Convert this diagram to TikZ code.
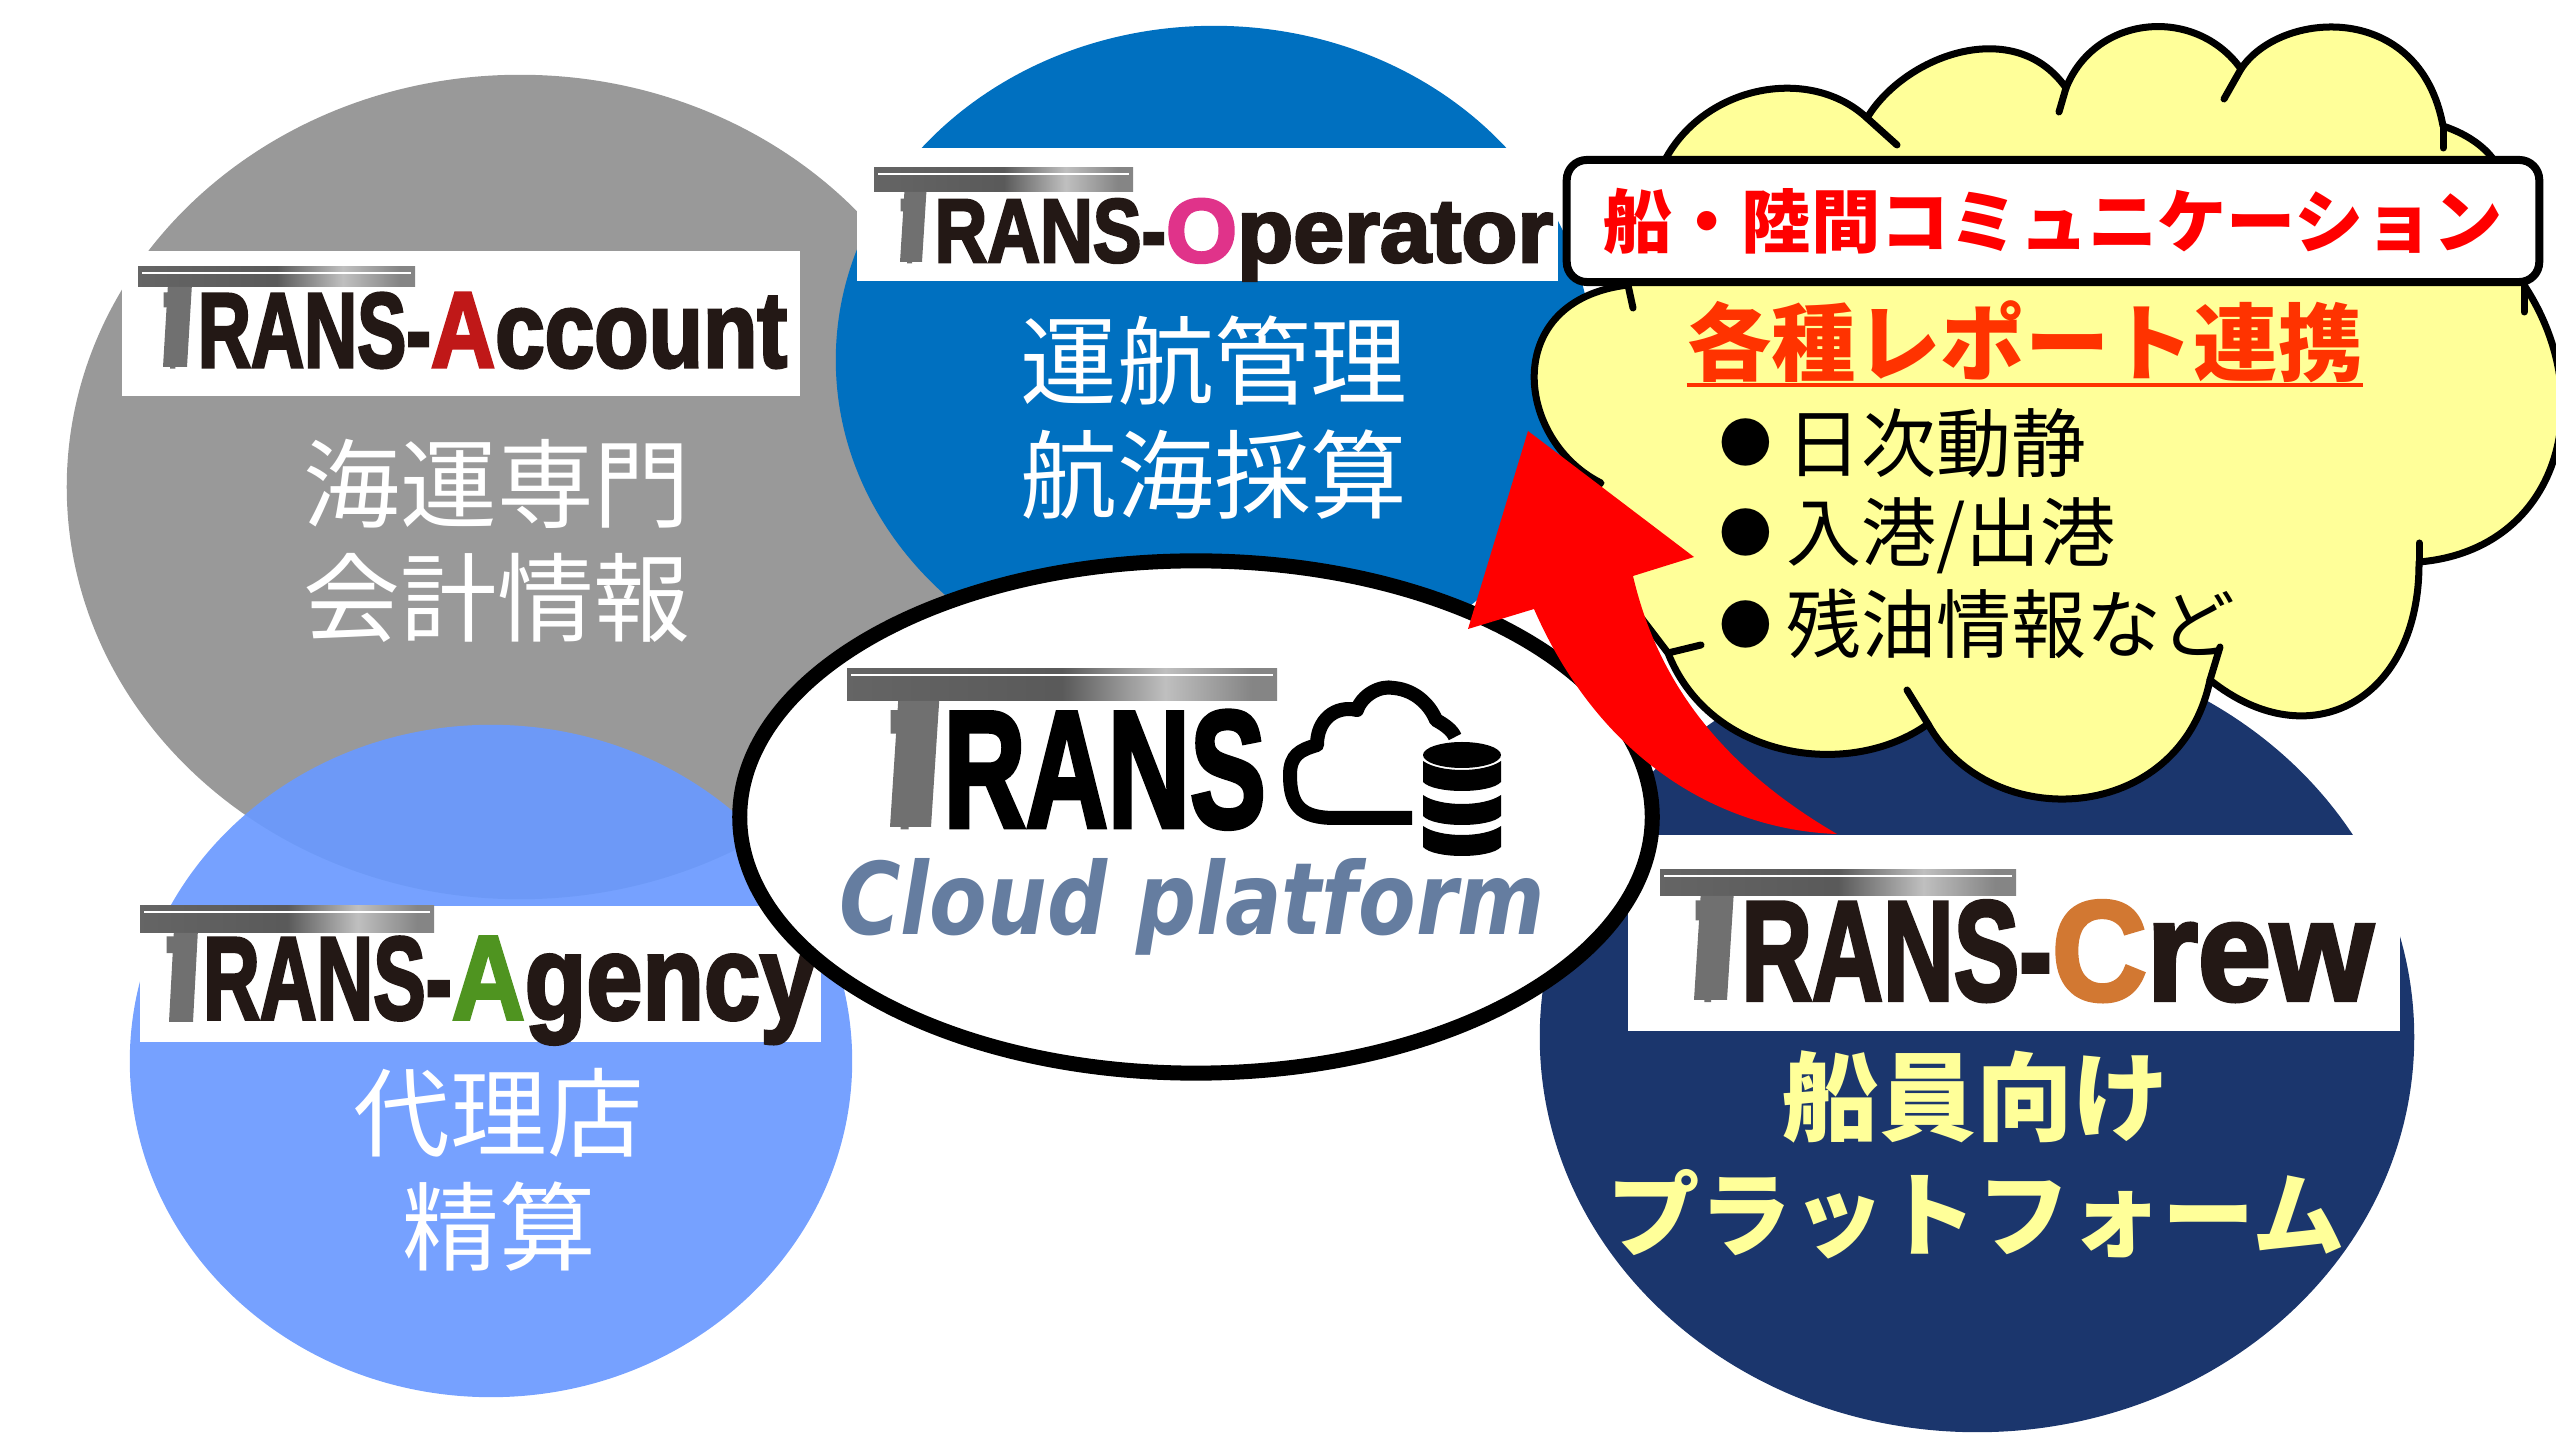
\documentclass[tikz,border=0pt]{standalone}
\usepackage{fontspec}
\usepackage{graphicx}
\usetikzlibrary{shapes.geometric}
\newfontfamily\cjkfont{Noto Sans CJK JP}
\newfontfamily\logofont[BoldFeatures={FakeBold=3}]{Liberation Sans}
\newfontfamily\cloudfont{DejaVu Sans}
\definecolor{greycirc}{HTML}{999999}
\definecolor{opblue}{HTML}{0070C0}
\definecolor{agblue}{HTML}{6A99FF}
\definecolor{navy}{HTML}{1B366D}
\definecolor{cream}{HTML}{FFFF99}
\definecolor{redorange}{HTML}{FF3300}
\definecolor{slate}{HTML}{657DA0}
\definecolor{logoblack}{HTML}{231815}
\definecolor{stemgrey}{HTML}{707070}
\definecolor{accountred}{HTML}{C01818}
\definecolor{operatorpink}{HTML}{E0338A}
\definecolor{agencygreen}{HTML}{4F9420}
\definecolor{creworange}{HTML}{D27832}
\pgfdeclarehorizontalshading{metal}{100bp}{color(0bp)=(stemgrey); color(50bp)=(stemgrey!80!black); color(62bp)=(white!75!black); color(72bp)=(stemgrey!85!white); color(100bp)=(stemgrey!85!white)}
\newcommand{\trans}{\textcolor{stemgrey}{\scalebox{0.4}[1]{T}}\kern0.22em RANS}
\newcommand{\logoword}[6]{\resizebox{#1cm}{#3cm}{\logofont\bfseries\color{logoblack}\trans-}\resizebox{#2cm}{#3cm}{\logofont\bfseries\textcolor{#4}{#5}\textcolor{logoblack}{#6}}}
\begin{document}
\begin{tikzpicture}[x=0.01cm, y=-0.01cm,
    circ/.style={ellipse, inner sep=0pt},
    logobox/.style={fill=white, inner sep=0pt, anchor=north west},
    logotext/.style={inner sep=0pt, anchor=base west},
    desc/.style={align=center, text=white, font=\cjkfont\fontsize{27.5}{32.4}\selectfont},
    cloudline/.style={line width=0.07cm, line cap=round, line join=round},
    reportline/.style={anchor=west, inner sep=0pt, font=\cjkfont\fontsize{21.3}{25}\selectfont}]
    \useasboundingbox (0,0) rectangle (2556,1434);

    \node (account) at (520,487) [circ, fill=greycirc, minimum width=9.06cm, minimum height=8.24cm] {};
    \node (operator) at (1214,360) [circ, fill=opblue, minimum width=7.56cm, minimum height=6.68cm] {};
    \node (agency) at (491,1061) [circ, fill=agblue, fill opacity=0.92, minimum width=7.22cm, minimum height=6.72cm] {};
    \node (crew) at (1977,1037) [circ, fill=navy, minimum width=8.74cm, minimum height=7.9cm] {};

    \node (accountbox) at (121,250) [logobox, minimum width=6.78cm, minimum height=1.45cm] {};
    \node (operatorbox) at (856,147) [logobox, minimum width=7.01cm, minimum height=1.33cm] {};
    \node (agencybox) at (139,905) [logobox, minimum width=6.81cm, minimum height=1.36cm] {};
    \node (crewbox) at (1627,834) [logobox, minimum width=7.72cm, minimum height=1.96cm] {};

    \node (accountlogo) at (163,367) [logotext] {\logoword{2.67}{3.56}{0.74}{accountred}{A}{ccount}};
    \node (operatorlogo) at (900,262) [logotext] {\logoword{2.65}{3.87}{0.63}{operatorpink}{O}{perator}};
    \node (agencylogo) at (166,1019) [logotext] {\logoword{2.85}{3.64}{0.82}{agencygreen}{A}{gency}};
    \node (crewlogo) at (1695,1000) [logotext] {\logoword{3.56}{3.21}{0.99}{creworange}{C}{rew}};

    \node (accountdesc) at (497,541) [desc] {海運専門\\会計情報};
    \node (operatordesc) at (1214,418) [desc] {運航管理\\航海採算};
    \node (agencydesc) at (499,1170) [desc] {代理店\\精算};
    \node (crewtop) at (1976,1097) [desc, text=cream, font=\cjkfont\bfseries\fontsize{27.5}{32.4}\selectfont] {船員向け};
    \node (crewbottom) at (1976,1214) [desc, text=cream, font=\cjkfont\bfseries\fontsize{26.3}{32.4}\selectfont] {プラットフォーム};

    \node (platform) at (1196,817) [circ, draw, fill=white, line width=0.15cm, minimum width=9.12cm, minimum height=5.12cm] {};
    \node (translogo) at (890,827) [logotext] {\resizebox{3.75cm}{1.16cm}{\logofont\bfseries\trans}};
    \node (cloudtext) at (1192,935) [inner sep=0pt, anchor=base, text=slate] {\resizebox{7.05cm}{0.76cm}{\cloudfont\bfseries\itshape Cloud platform}};

    \foreach \x/\y/\w/\h/\sx/\sb/\sw in {138/267/277/20/163/367/24, 874/168/259/24/900/262/22, 140/906/294/27/169/1022/24, 1660/870/356/26/1694/1000/33, 847/669/430/32/890/827/41} {
        \shade [shading=metal] (\x,\y) rectangle ++(\w,\h);
        \draw [white, line width=0.02cm] (\x+4,\y+6) -- ++(\w-8,0);
        \fill [stemgrey] (\sx,\sb) -- ++(\sw,0) -- (\sx+\sw*1.2,\y+\h) -- (\sx+\sw*0.2,\y+\h) -- cycle;
    }

    \draw [line width=0.14cm, line cap=butt, line join=round] (1412,818) -- (1335,818) .. controls (1300,818) and (1290,805) .. (1290,775) .. controls (1290,755) and (1300,750) .. (1317,745) .. controls (1317,720) and (1335,705) .. (1357,710) .. controls (1362,695) and (1380,685) .. (1394,688) .. controls (1415,690) and (1430,705) .. (1436,720) .. controls (1445,725) and (1452,730) .. (1455,737);
    \fill (1423,755) arc [start angle=180, end angle=-180, x radius=39, y radius=-13];
    \foreach \y in {761, 795, 826} {
        \fill (1423,\y) .. controls (1440,\y+12) and (1484,\y+12) .. (1501,\y) -- (1501,\y+21) .. controls (1490,\y+33) and (1434,\y+33) .. (1423,\y+21) -- cycle;
    }

    \draw [cloudline, fill=cream] (1665,160) .. controls (1705,85) and (1810,65) .. (1867,118)
        .. controls (1905,55) and (2015,15) .. (2066,88)
        .. controls (2095,15) and (2195,5) .. (2241,69)
        .. controls (2280,10) and (2420,0) .. (2443,126)
        .. controls (2470,135) and (2490,150) .. (2500,170) -- (2524,285)
        .. controls (2600,400) and (2560,550) .. (2419,562)
        .. controls (2420,700) and (2310,760) .. (2210,680)
        .. controls (2180,825) and (1990,835) .. (1928,724)
        .. controls (1850,780) and (1710,760) .. (1668,653) -- (1620,590) -- (1590,490) -- (1601,483)
        .. controls (1515,440) and (1500,300) .. (1628,285) -- cycle;
    \foreach \xa/\ya/\xb/\yb in {1867/118/1897/145, 2066/88/2059/112, 2241/69/2224/99, 2443/126/2443/148, 2524/285/2524/312, 2419/562/2419/543, 2210/680/2220/647, 1928/724/1907/690, 1668/653/1701/645, 1628/285/1633/308} {
        \draw [cloudline] (\xa,\ya) -- (\xb,\yb);
    }

    \node (commbox) at (2053,221) [draw, fill=white, rounded corners=0.2cm, line width=0.08cm, minimum width=9.72cm, minimum height=1.22cm, text=red, font=\cjkfont\bfseries\fontsize{19.7}{24}\selectfont] {船・陸間コミュニケーション};

    \node (reporttitle) at (2025,342) [inner sep=0pt, text=redorange, font=\cjkfont\bfseries\fontsize{24}{29}\selectfont] {各種レポート連携};
    \draw [redorange, line width=0.045cm] (reporttitle.south west |- 0,385) -- (reporttitle.south east |- 0,385);
    \node (dailyitem) at (1719,443) [reportline] {\raisebox{2.4pt}{\fontsize{15}{25}\selectfont ●}\hspace{0.14cm}日次動静};
    \node (portitem) at (1719,536) [reportline] {\raisebox{2.4pt}{\fontsize{15}{25}\selectfont ●}\hspace{0.14cm}入港/出港};
    \node (fuelitem) at (1719,624) [reportline] {\raisebox{2.4pt}{\fontsize{15}{25}\selectfont ●}\hspace{0.14cm}残油情報など};

    \fill [red] (1528,431) -- (1694,557) -- (1633,576) .. controls (1655,670) and (1710,760) .. (1837,834) .. controls (1720,830) and (1600,760) .. (1534,609) -- (1468,629) -- cycle;
\end{tikzpicture}
\end{document}
